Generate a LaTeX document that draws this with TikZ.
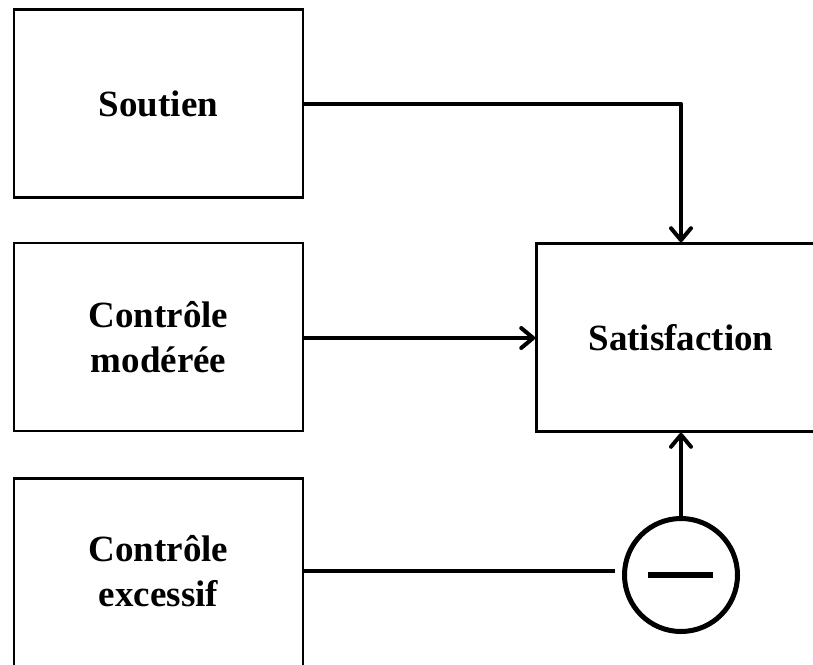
\documentclass[tikz,border=0pt]{standalone}
\usepackage{fontspec}
\setmainfont{Liberation Serif}
\usetikzlibrary{arrows.meta}
\begin{document}
\begin{tikzpicture}[x=1pt,y=-1pt,
  frame/.style={draw=black,line width=2.6pt,minimum width=289pt,minimum height=188pt,inner sep=0pt},
  label text/.style={align=center,inner sep=0pt,font=\fontsize{37}{45}\selectfont\bfseries},
  blockbox/.style={frame,label text},
  link/.style={line width=4pt,line join=round,-{Straight Barb[length=12pt,width=20pt,line width=4pt,round]}},
  plainlink/.style={line width=4pt}]
\useasboundingbox (0,0) rectangle (813,664);
\begin{scope}
\clip (0,0) rectangle (813,664);
\node[blockbox] (soutien) at (158.5,103.5) {Soutien};
\node[blockbox] (moderee) at (158.5,337) {Contrôle\\modérée};
% lower box runs past the bottom edge
\node[frame,minimum height=210pt,anchor=north] (excessif) at (158.5,477) {};
\node[label text] (excessiftext) at (158.5,571) {Contrôle\\excessif};
\node[blockbox] (satis) at (681,337.5) {Satisfaction};
\node[circle,draw=black,line width=5pt,minimum size=113pt,inner sep=0pt] (minus) at (681,575) {};
\draw[line width=6pt] (648,575) -- (713,575);
\draw[link] (soutien.east) -| (satis.north);
\draw[link] (moderee.east |- 0,338) -- (satis.west |- 0,338);
\coordinate (gap) at (615,571);
\draw[plainlink] (excessif.east |- gap) -- (gap);
\draw[link] (minus.north) -- (satis.south);
\end{scope}
\end{tikzpicture}
\end{document}
